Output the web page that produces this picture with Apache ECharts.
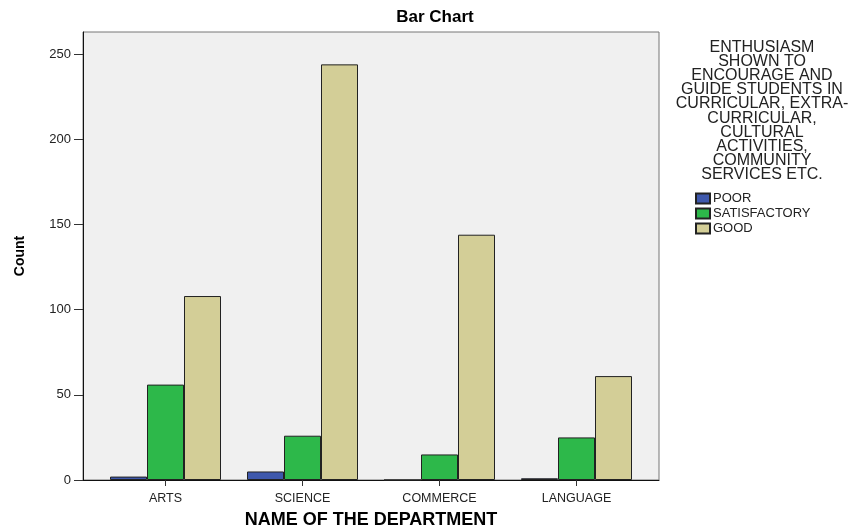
<!DOCTYPE html>
<html>
<head>
<meta charset="utf-8">
<script src="https://cdn.jsdelivr.net/npm/echarts@6/dist/echarts.min.js"></script>
<style>html,body{margin:0;padding:0;background:#fff}#c{width:861px;height:528px}</style>
</head>
<body>
<div id="c"></div>
<script>
var categories = ['ARTS', 'SCIENCE', 'COMMERCE', 'LANGUAGE'];
var seriesNames = ['POOR', 'SATISFACTORY', 'GOOD'];
var poor = [2, 5, 0, 1];
var satisfactory = [56, 26, 15, 25];
var good = [108, 244, 144, 61];
var yTicks = [0, 50, 100, 150, 200, 250];
var legendTitle = 'ENTHUSIASM\nSHOWN TO\nENCOURAGE AND\nGUIDE STUDENTS IN\nCURRICULAR, EXTRA-\nCURRICULAR,\nCULTURAL\nACTIVITIES,\nCOMMUNITY\nSERVICES ETC.';

var colors = ['#3E58AC', '#2DB84A', '#D3CE97'];
var FONT = 'Arial, "Liberation Sans", sans-serif';

var chart = echarts.init(document.getElementById('c'), null, {renderer: 'canvas'});

function barSeries(name, data, color) {
  return {
    name: name, type: 'bar', data: data,
    xAxisIndex: 1, yAxisIndex: 1,
    barWidth: 37, barGap: '0%',
    itemStyle: {color: color, borderColor: '#222', borderWidth: 1},
    emphasis: {disabled: true}
  };
}

chart.setOption({
  animation: false,
  color: colors,
  title: [
    {text: 'Bar Chart', left: 435, top: 9, padding: 0, textAlign: 'center',
     textStyle: {fontFamily: FONT, fontSize: 17, fontWeight: 'bold', color: '#000'}},
    {text: legendTitle, left: 762, top: 40, padding: 0, textAlign: 'center',
     textStyle: {fontFamily: FONT, fontSize: 16, fontWeight: 'normal', color: '#222', lineHeight: 14.2}}
  ],
  legend: {
    orient: 'vertical', left: 695, top: 192, padding: 0,
    itemWidth: 14, itemHeight: 10, itemGap: 2,
    icon: 'rect',
    data: seriesNames,
    textStyle: {fontFamily: FONT, fontSize: 13, color: '#222', lineHeight: 12, padding: [0,0,0,-2]}
  },
  grid: [
    {left: 83, right: 202, top: 32, bottom: 48, show: true, backgroundColor: '#F0F0F0', borderColor: '#777', borderWidth: 1, containLabel: false, outerBoundsMode: 'none'},
    {left: 97, right: 216, top: 32, bottom: 48, containLabel: false, outerBoundsMode: 'none'}
  ],
  xAxis: [
    {type: 'value', gridIndex: 0, min: 0, max: 1, axisLine: {show: true, lineStyle: {color: '#111', width: 1}},
     axisTick: {show: false}, axisLabel: {show: false}, splitLine: {show: false}},
    {type: 'category', gridIndex: 1, data: categories,
     axisLine: {show: false},
     axisTick: {show: true, alignWithLabel: true, length: 6, lineStyle: {color: '#333'}},
     axisLabel: {fontFamily: FONT, fontSize: 12.5, color: '#222', margin: 12},
     name: 'NAME OF THE DEPARTMENT', nameLocation: 'middle', nameGap: 31,
     nameTextStyle: {fontFamily: FONT, fontSize: 18, fontWeight: 'bold', color: '#000'}}
  ],
  yAxis: [
    {type: 'value', gridIndex: 0, min: 0, max: 1, axisLine: {show: true, lineStyle: {color: '#111', width: 1}},
     axisTick: {show: false}, axisLabel: {show: false}, splitLine: {show: false}},
    {type: 'value', gridIndex: 1, min: 0, max: 263, interval: 50, offset: 14,
     axisLine: {show: false},
     axisTick: {show: true, length: 9, lineStyle: {color: '#333'}, customValues: yTicks},
     axisLabel: {fontFamily: FONT, fontSize: 13, color: '#222', margin: 12, customValues: yTicks},
     splitLine: {show: false},
     name: 'Count', nameLocation: 'middle', nameGap: 56, nameRotate: 90,
     nameTextStyle: {fontFamily: FONT, fontSize: 14, fontWeight: 'bold', color: '#000'}}
  ],
  series: [
    barSeries(seriesNames[0], poor, colors[0]),
    barSeries(seriesNames[1], satisfactory, colors[1]),
    barSeries(seriesNames[2], good, colors[2])
  ]
});
</script>
</body>
</html>
